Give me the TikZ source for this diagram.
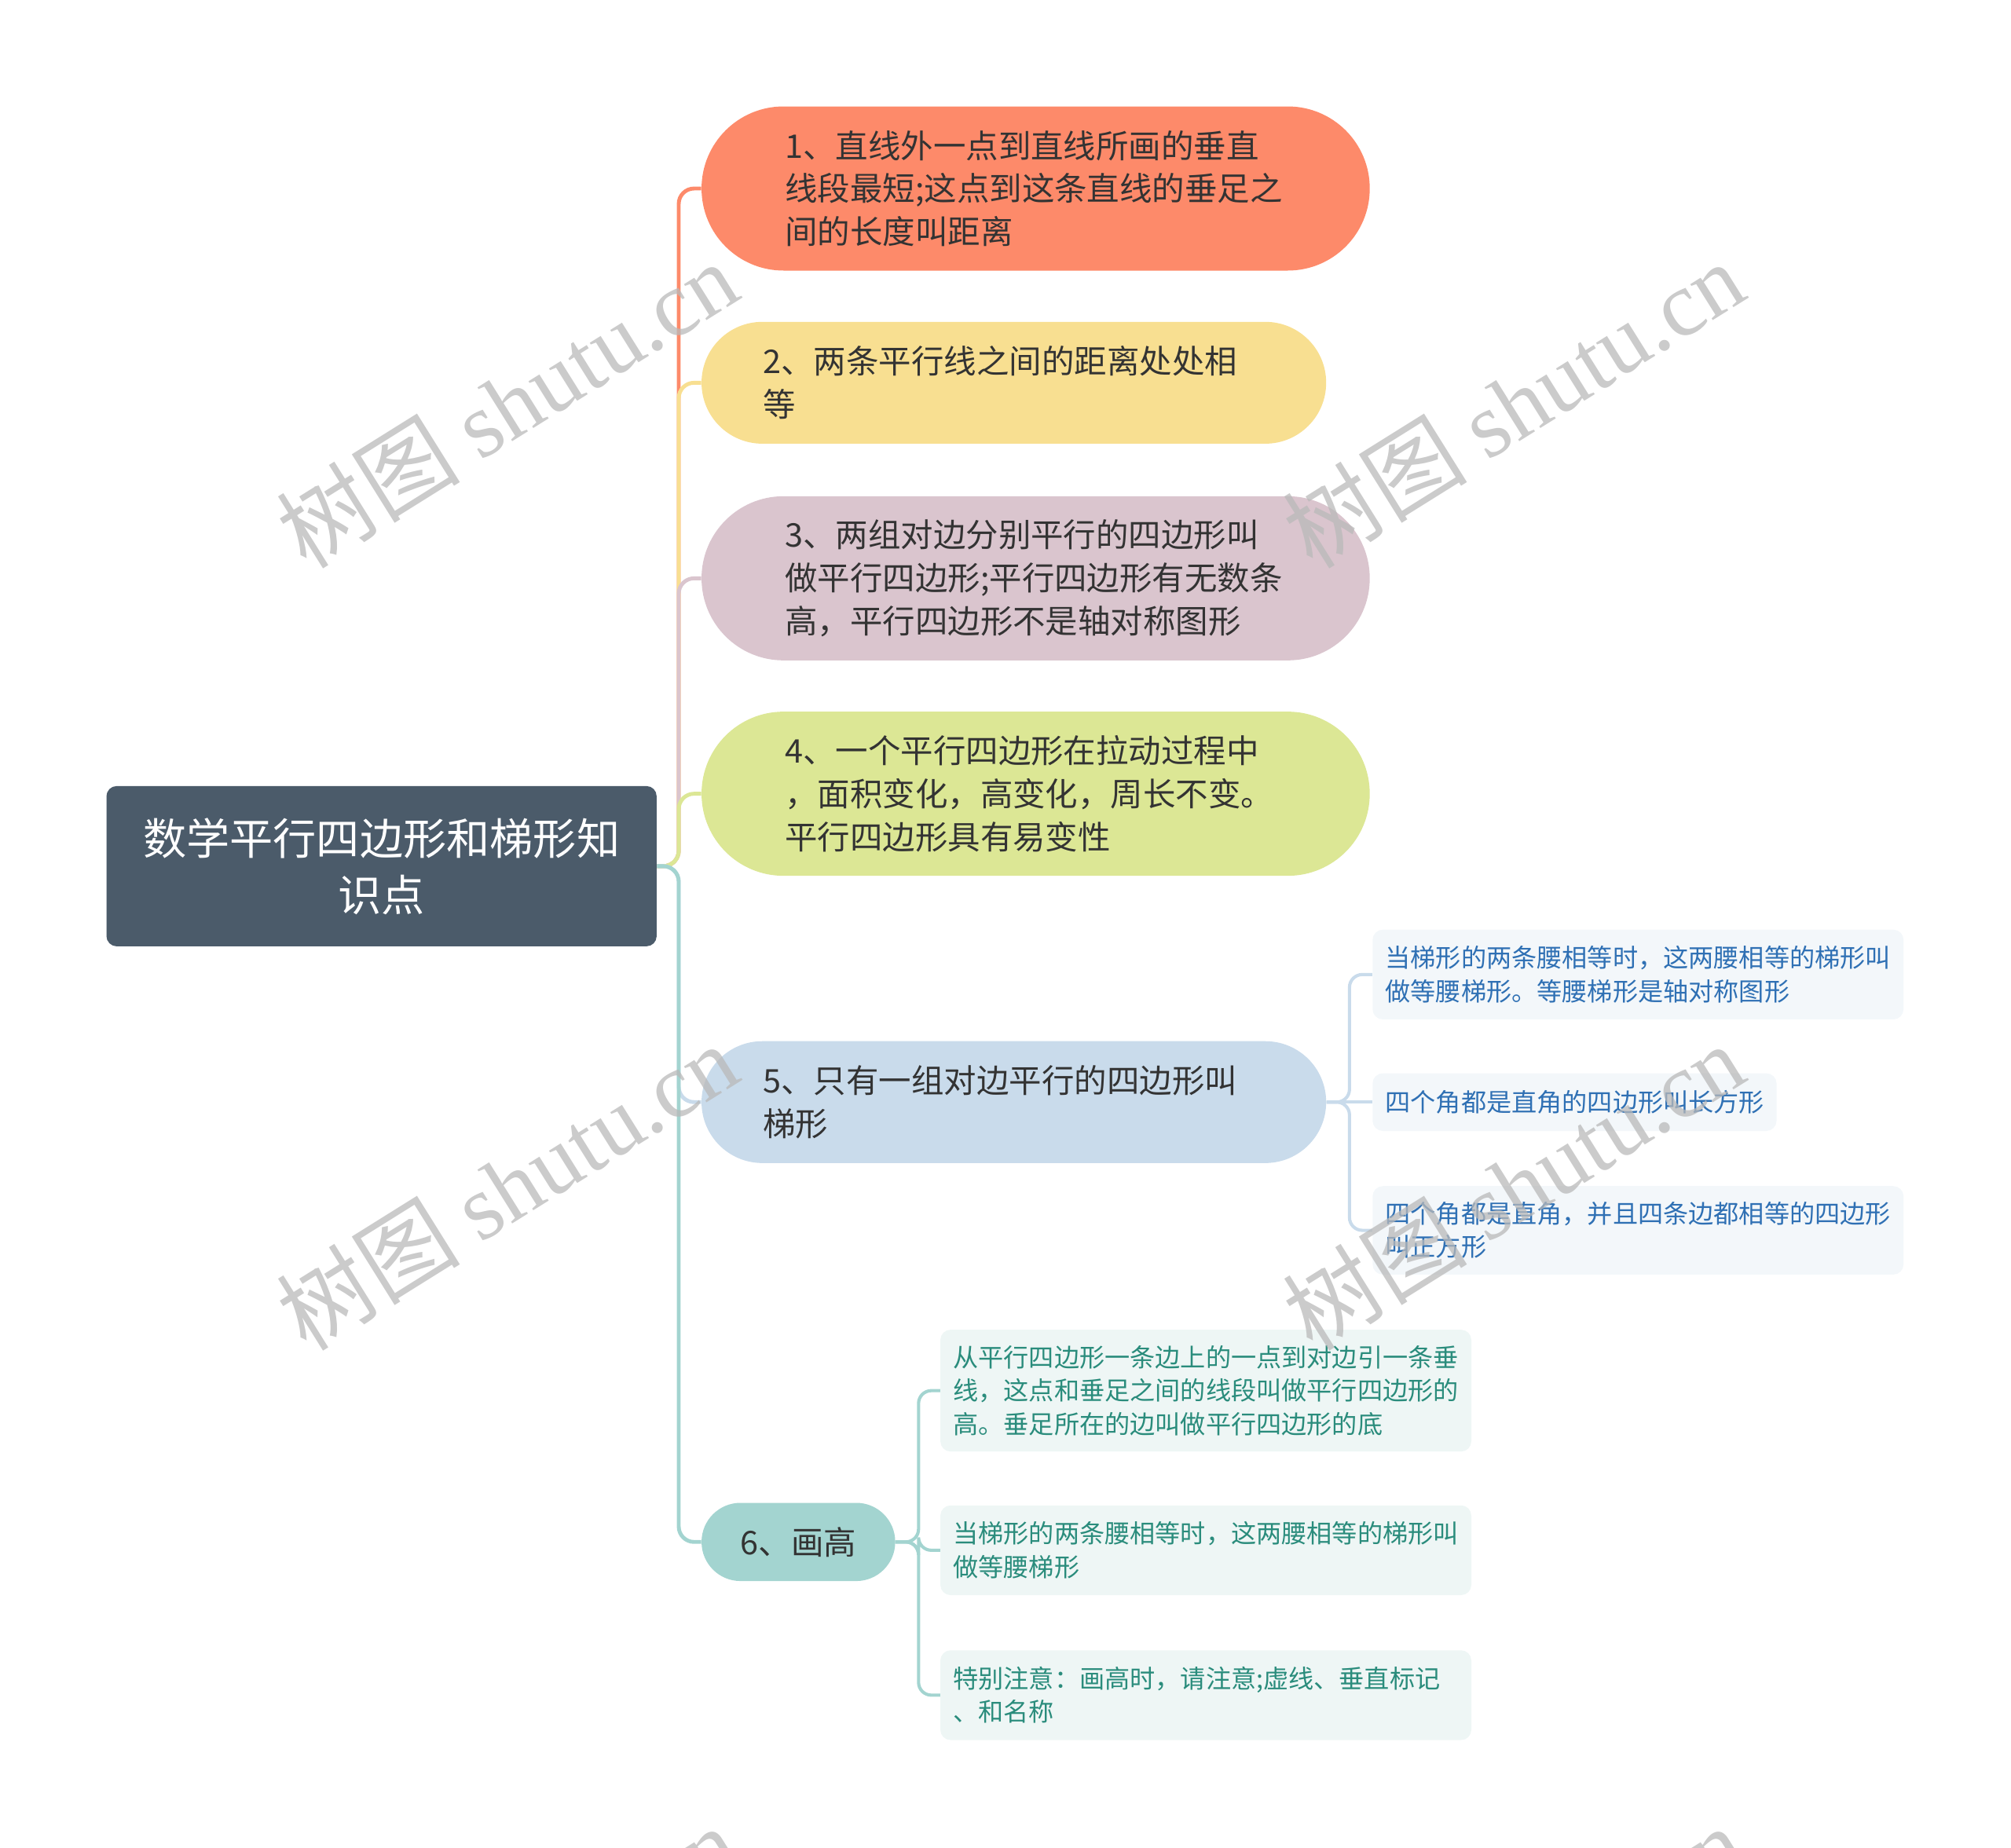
\documentclass[tikz,border=0pt]{standalone}
\usepackage{fontspec}
\setmainfont{Noto Sans CJK SC}
\newfontfamily\wmlatin{Liberation Serif}
\usetikzlibrary{calc}
\definecolor{topicfill}{RGB}{75,91,106}
\definecolor{distfill}{RGB}{253,138,106}
\definecolor{parafill}{RGB}{248,223,145}
\definecolor{pgramfill}{RGB}{218,197,206}
\definecolor{deformfill}{RGB}{220,231,149}
\definecolor{trapfill}{RGB}{201,219,235}
\definecolor{heightfill}{RGB}{163,212,208}
\definecolor{bluetext}{RGB}{47,112,180}
\definecolor{blueleaf}{RGB}{243,247,250}
\definecolor{tealtext}{RGB}{42,140,124}
\definecolor{tealleaf}{RGB}{238,246,245}
\definecolor{darktext}{RGB}{51,51,51}
\definecolor{wmgray}{RGB}{185,185,185}

\begin{document}
\begin{tikzpicture}[x=1pt,y=-1pt]
       \tikzstyle{topicbox} = [rectangle, fill=topicfill, rounded corners=8pt, text=white, align=center,
                               font=\fontsize{33.8}{44}\selectfont];
       \tikzstyle{pill} = [rectangle, text=darktext, align=left, font=\fontsize{25.4}{33.5}\selectfont];
       \tikzstyle{leaf} = [rectangle, rounded corners=8pt, anchor=west, align=left, inner xsep=10pt,
                           font=\fontsize{19.7}{26}\selectfont];
       \tikzstyle{branch} = [line width=3pt, rounded corners=12pt];
       \tikzstyle{twig} = [line width=2.5pt, rounded corners=10pt];
       \tikzstyle{wm} = [text=wmgray, opacity=0.75, rotate=32, font=\fontsize{72}{72}\selectfont];

       \useasboundingbox (0,0) rectangle (1568,1441.2);

       \node[topicbox, minimum width=429pt, minimum height=125pt] (topic) at (297.5,675.5) {数学平行四边形和梯形知\\识点};

       \node[pill, fill=distfill, minimum width=521pt, minimum height=128pt, rounded corners=63.9pt, text width=391pt]
            (dist) at (807.5,147) {1、直线外一点到直线所画的垂直\\线段最短;这点到这条直线的垂足之\\间的长度叫距离};
       \node[pill, fill=parafill, minimum width=487pt, minimum height=95pt, rounded corners=47.4pt, text width=391pt]
            (para) at (790.5,298.5) {2、两条平行线之间的距离处处相\\等};
       \node[pill, fill=pgramfill, minimum width=521pt, minimum height=128pt, rounded corners=63.9pt, text width=391pt]
            (pgram) at (807.5,451) {3、两组对边分别平行的四边形叫\\做平行四边形;平行四边形有无数条\\高，平行四边形不是轴对称图形};
       \node[pill, fill=deformfill, minimum width=521pt, minimum height=128pt, rounded corners=63.9pt, text width=391pt]
            (deform) at (807.5,619) {4、一个平行四边形在拉动过程中\\，面积变化，高变化，周长不变。\\平行四边形具有易变性};
       \node[pill, fill=trapfill, minimum width=487pt, minimum height=95pt, rounded corners=47.4pt, text width=391pt]
            (trap) at (790.5,859.5) {5、只有一组对边平行的四边形叫\\梯形};
       \node[pill, fill=heightfill, minimum width=151pt, minimum height=61pt, rounded corners=30.4pt, align=center]
            (height) at (622.5,1202.5) {6、画高};

       % leaves of 5
       \node[leaf, fill=blueleaf, text=bluetext, minimum height=70pt, text width=394pt]
            (isos) at (1070,760) {当梯形的两条腰相等时，这两腰相等的梯形叫\\做等腰梯形。等腰梯形是轴对称图形};
       \node[leaf, fill=blueleaf, text=bluetext, minimum height=45pt, text width=295pt]
            (rect) at (1070,859.5) {四个角都是直角的四边形叫长方形};
       \node[leaf, fill=blueleaf, text=bluetext, minimum height=69pt, text width=394pt]
            (square) at (1070,959.5) {四个角都是直角，并且四条边都相等的四边形\\叫正方形};

       % leaves of 6
       \node[leaf, fill=tealleaf, text=tealtext, minimum height=95pt, text width=394pt]
            (hdef) at (733,1084.5) {从平行四边形一条边上的一点到对边引一条垂\\线，这点和垂足之间的线段叫做平行四边形的\\高。垂足所在的边叫做平行四边形的底};
       \node[leaf, fill=tealleaf, text=tealtext, minimum height=70pt, text width=394pt]
            (isosb) at (733,1209) {当梯形的两条腰相等时，这两腰相等的梯形叫\\做等腰梯形};
       \node[leaf, fill=tealleaf, text=tealtext, minimum height=70pt, text width=394pt]
            (note) at (733,1322) {特别注意：画高时，请注意;虚线、垂直标记\\、和名称};

       \draw[branch, distfill] (topic.east) -- ++(17,0) |- (dist.west);
       \draw[branch, parafill] (topic.east) -- ++(17,0) |- (para.west);
       \draw[branch, pgramfill] (topic.east) -- ++(17,0) |- (pgram.west);
       \draw[branch, deformfill] (topic.east) -- ++(17,0) |- (deform.west);
       \draw[branch, trapfill] (topic.east) -- ++(17,0) |- (trap.west);
       \draw[branch, heightfill] (topic.east) -- ++(17,0) |- (height.west);

       \draw[twig, trapfill] (trap.east) -- ++(18,0) |- (isos.west);
       \draw[twig, trapfill] (trap.east) -- (rect.west);
       \draw[twig, trapfill] (trap.east) -- ++(18,0) |- (square.west);

       \draw[twig, heightfill] (height.east) -- ++(18,0) |- (hdef.west);
       \draw[twig, heightfill] (height.east) -- ++(18,0) |- (isosb.west);
       \draw[twig, heightfill] (height.east) -- ++(18,0) |- (note.west);

       % watermarks
       \node[wm] (wma) at (395,315) {树图 {\wmlatin shutu.cn}};
       \node[wm] (wmb) at (1180,315) {树图 {\wmlatin shutu.cn}};
       \node[wm] (wmc) at (395,925) {树图 {\wmlatin shutu.cn}};
       \node[wm] (wmd) at (1180,925) {树图 {\wmlatin shutu.cn}};
       \node[wm] (wme) at (395,1535) {树图 {\wmlatin shutu.cn}};
       \node[wm] (wmf) at (1180,1535) {树图 {\wmlatin shutu.cn}};
\end{tikzpicture}
\end{document}
